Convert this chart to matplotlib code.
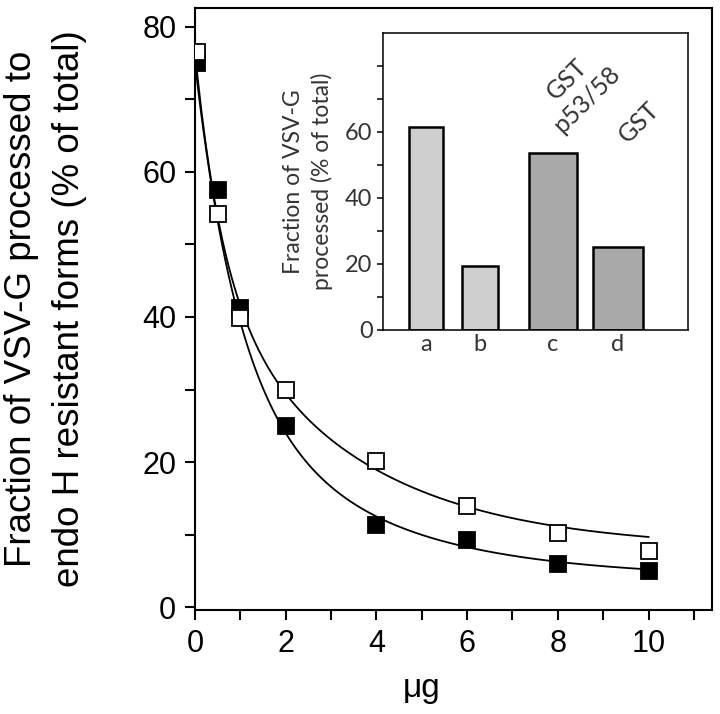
"""Endo H processing of VSV-G vs. protein amount, with bar-chart inset."""
import matplotlib
matplotlib.use("Agg")
import matplotlib.pyplot as plt  # noqa: E402
import numpy as np  # noqa: E402
from matplotlib.ticker import FixedLocator, MultipleLocator  # noqa: E402

# --- main panel data ---
dose = [0.05, 0.5, 1, 2, 4, 6, 8, 10]
filled_vals = [75.0, 57.5, 41.3, 25.0, 11.3, 9.2, 6.0, 5.0]
open_vals = [76.5, 54.2, 39.8, 29.9, 20.2, 14.0, 10.2, 7.8]

# fitted decay curves: A1*exp(-x/t1) + A2*exp(-x/t2) + c
filled_fit = dict(A1=43.5, t1=0.95, A2=27.5, t2=3.19, c=4.0)
open_fit = dict(A1=30.5, t1=0.60, A2=38.0, t2=3.2, c=8.0)

# --- inset data ---
bar_labels = ["a", "b", "c", "d"]
bar_vals = [61.5, 19.4, 53.6, 25.1]
bar_notes = ["", "", "GST\np53/58", "GST"]

# inset layout (position / width / shade per bar)
bar_pos = [1.41, 3.18, 5.57, 7.70]
bar_width = [1.11, 1.15, 1.57, 1.64]
bar_color = ["#cfcfcf", "#cfcfcf", "#a9a9a9", "#a9a9a9"]


def decay(x, A1, t1, A2, t2, c):
    return A1 * np.exp(-x / t1) + A2 * np.exp(-x / t2) + c


plt.rcParams.update({"font.family": "Liberation Sans"})

fig = plt.figure(figsize=(7.2, 7.14), dpi=100)
ax = fig.add_axes([195 / 720, 1 - 610 / 714, 517 / 720, 602 / 714])

xs = np.linspace(0, 10, 300)
ax.plot(xs, decay(xs, **filled_fit), color="black", lw=1.3, zorder=2)
ax.plot(xs, decay(xs, **open_fit), color="black", lw=1.3, zorder=2)
ax.plot(dose, filled_vals, ls="none", marker="s", ms=11, mfc="black",
        mec="black", mew=1.3, zorder=3)
ax.plot(dose, open_vals, ls="none", marker="s", ms=11, mfc="white",
        mec="black", mew=1.3, zorder=4)

ax.set_xlim(0, 11.4)
ax.set_ylim(-0.4, 82.6)
ax.xaxis.set_major_locator(MultipleLocator(2))
ax.xaxis.set_minor_locator(MultipleLocator(1))
ax.yaxis.set_major_locator(MultipleLocator(20))
ax.yaxis.set_minor_locator(MultipleLocator(10))
ax.tick_params(which="both", direction="out", width=1.5, labelsize=22, pad=6)
ax.tick_params(which="major", length=7.5)
ax.tick_params(which="minor", length=7.5)
for s in ax.spines.values():
    s.set_linewidth(1.5)

ax.set_xlabel("\u03bcg", fontsize=24)
ax.xaxis.set_label_coords(5 / 11.4, -0.105)
ax.set_ylabel("Fraction of VSV-G processed to\nendo H resistant forms (% of total)",
              fontsize=26.5, linespacing=1.45, labelpad=40)

# --- inset ---
ins = fig.add_axes([383 / 720, 1 - 330 / 714, 305 / 720, 297 / 714])
ins.bar(bar_pos, bar_vals, width=bar_width, color=bar_color,
        edgecolor="black", linewidth=1.8, zorder=2)
ins.set_xlim(0, 10)
ins.set_ylim(0, 90)
ins.set_xticks(bar_pos)
ins.set_xticklabels(bar_labels)
ins.yaxis.set_major_locator(FixedLocator([0, 20, 40, 60]))
ins.yaxis.set_minor_locator(FixedLocator([10, 30, 50, 70, 80]))
ins.tick_params(axis="x", length=0, pad=3, labelsize=17, labelcolor="#333333")
ins.tick_params(axis="y", which="both", direction="out", length=4.5, width=1.1,
                labelsize=17, labelcolor="#333333", pad=3)
for lab in ins.get_xticklabels() + ins.get_yticklabels():
    lab.set_family("Lato")
for s in ins.spines.values():
    s.set_linewidth(1.1)
ins.set_ylabel("Fraction of VSV-G\nprocessed (% of total)", fontsize=16.5,
               family="Lato", color="#333333", linespacing=1.35, labelpad=9)

note_xy = {"GST\np53/58": (6.35, 73.0), "GST": (8.4, 63.0)}
for note in bar_notes:
    if note:
        x, y = note_xy[note]
        ins.text(x, y, note, rotation=45, ha="center", va="center",
                 multialignment="center", fontsize=18, family="Lato",
                 color="#333333", linespacing=1.25)

fig.savefig("out.png", dpi=100)
